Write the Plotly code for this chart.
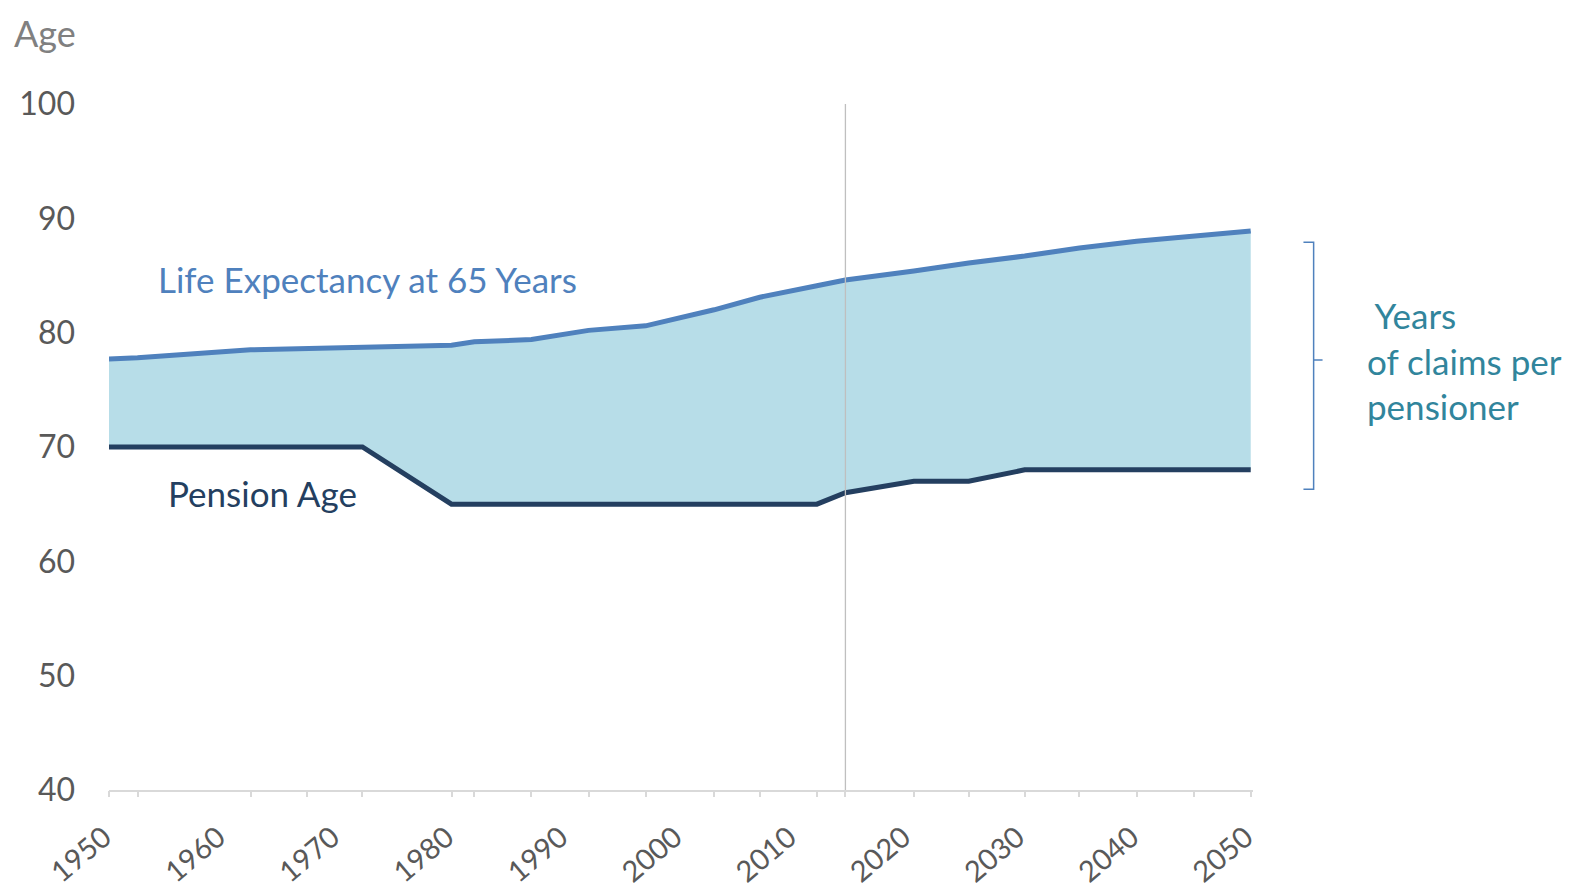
import plotly.graph_objects as go

# ---- data ----
years = [1950, 1952.5, 1962.4, 1967.3, 1972.2, 1980, 1982, 1987, 1992, 1997, 2003, 2007, 2012, 2014.5, 2020.5, 2025.3, 2030.2, 2035, 2040, 2045, 2050]
life_expectancy = [77.7, 77.8, 78.5, 78.6, 78.7, 78.9, 79.2, 79.4, 80.2, 80.6, 82.0, 83.1, 84.1, 84.6, 85.4, 86.1, 86.7, 87.4, 88.0, 88.5, 88.9]
pension_age = [70, 70, 70, 70, 70, 65, 65, 65, 65, 65, 65, 65, 65, 66, 67, 67, 68, 68, 68, 68, 68]
decade_ticks = [1950, 1960, 1970, 1980, 1990, 2000, 2010, 2020, 2030, 2040, 2050]
decade_labels = [str(v) for v in decade_ticks]
y_ticks = [40, 50, 60, 70, 80, 90, 100]
current_year = 2014.5

FONT = "Lato"
LIFE_C = "#4F81BD"
PENS_C = "#243F60"
FILL_C = "#B7DDE8"
TEAL = "#31859C"
TICK_C = "#595959"

fig = go.Figure()
fig.add_trace(go.Scatter(x=years, y=pension_age, mode="lines",
                         line=dict(color=PENS_C, width=5), hoverinfo="skip", showlegend=False))
fig.add_trace(go.Scatter(x=years, y=life_expectancy, mode="lines", fill="tonexty", fillcolor=FILL_C,
                         line=dict(color=LIFE_C, width=5), hoverinfo="skip", showlegend=False))
# invisible trace for tick-mark axis
fig.add_trace(go.Scatter(x=years, y=pension_age, xaxis="x2", mode="lines",
                         line=dict(width=0), opacity=0, hoverinfo="skip", showlegend=False))

fig.add_shape(type="line", x0=current_year, x1=current_year, xref="x", yref="y", y0=40, y1=100,
              line=dict(color="#BFBFBF", width=1.3), layer="above")

# bracket
bx0, bx1, bxm = 1.0441, 1.0530, 1.0608
ytop, ybot, ymid = 87.9, 66.3, 77.6
fig.add_shape(type="path", xref="paper", yref="y",
              path=f"M {bx0},{ytop} L {bx1},{ytop} L {bx1},{ybot} L {bx0},{ybot} M {bx1},{ymid} L {bxm},{ymid}",
              line=dict(color=LIFE_C, width=1.5))

fig.add_annotation(text="Life Expectancy at 65 Years", x=0.0413, xref="paper", y=84.7, yref="y",
                   xanchor="left", yanchor="middle", showarrow=False,
                   font=dict(family=FONT, size=35, color=LIFE_C))
fig.add_annotation(text="Pension Age", x=0.0499, xref="paper", y=66.0, yref="y",
                   xanchor="left", yanchor="middle", showarrow=False,
                   font=dict(family=FONT, size=35, color=PENS_C))
fig.add_annotation(text=" Years<br>of claims per<br>pensioner", x=1.0977, xref="paper", y=77.6, yref="y",
                   xanchor="left", yanchor="middle", align="left", showarrow=False,
                   font=dict(family=FONT, size=35, color=TEAL))
fig.add_annotation(text="Age", x=-0.0852, xref="paper", y=1.104, yref="paper",
                   xanchor="left", yanchor="middle", showarrow=False,
                   font=dict(family=FONT, size=36, color="#808080"))

# page body has an 8px margin, so the figure is laid out 8px smaller
fig.update_layout(
    width=1568, height=880,
    margin=dict(l=100.5, r=323, t=95.5, b=98),
    paper_bgcolor="white", plot_bgcolor="white",
    font=dict(family=FONT),
    xaxis=dict(range=[1950, 2050.2], tickvals=decade_ticks, ticktext=decade_labels,
               tickangle=-40, tickfont=dict(family=FONT, size=29, color=TICK_C),
               showgrid=False, zeroline=False, showline=True, linecolor="#D9D9D9", linewidth=2,
               ticks="", ticklabelstandoff=17, ticklabelshift=-5, automargin=False),
    xaxis2=dict(overlaying="x", matches="x", anchor="y", side="bottom",
                tickvals=years, showticklabels=False, ticks="outside", ticklen=6,
                tickcolor="#D9D9D9", tickwidth=2, showgrid=False, zeroline=False, showline=False,
                automargin=False),
    yaxis=dict(range=[40, 100], tickvals=y_ticks, showgrid=False, zeroline=False, showline=False,
               ticks="", tickfont=dict(family=FONT, size=32, color=TICK_C), ticklabelstandoff=33,
               automargin=False),
)

fig.write_html("out.html")
